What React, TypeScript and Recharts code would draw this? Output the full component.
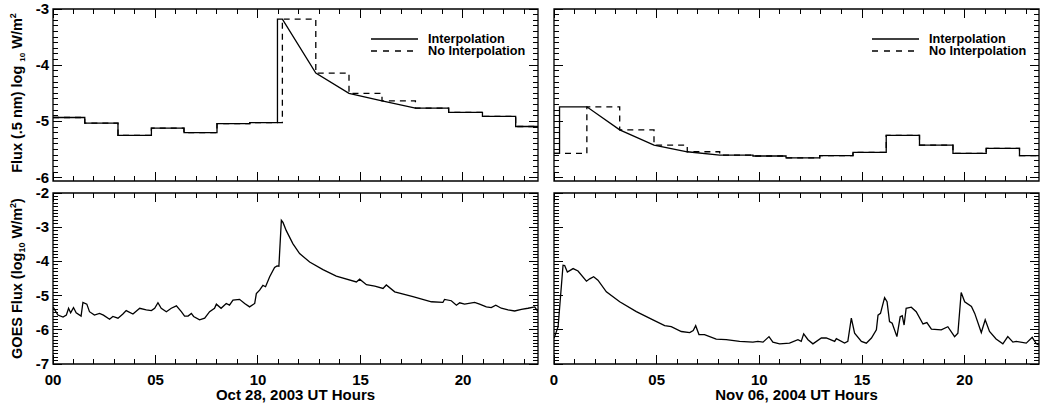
import { LineChart, Line, XAxis, YAxis, ReferenceArea, Legend } from 'recharts'

const FONT = '"Liberation Sans", Arial, Helvetica, sans-serif'

// x: UT hours, ticks every hour, labels on every 5th
const hourTicks = Array.from({ length: 24 }, (_, i) => i)
const octHourLabels = ['00', '05', '10', '15', '20']
const novHourLabels = ['0', '05', '10', '15', '20']

// y: log10 flux, majors labelled, minors every 0.1
const fluxMajor = [-6, -5, -4, -3]
const goesMajor = [-7, -6, -5, -4, -3, -2]

// Oct 28, 2003 — 0.5 nm flux bins
const octBinEdges = [0, 1.55, 3.17, 4.8, 6.39, 8.0, 9.6, 11.19, 12.82, 14.44, 16.05, 17.68, 19.3, 20.95, 22.57, 23.66]
const octBinLevels = [-4.93, -5.03, -5.25, -5.12, -5.2, -5.04, -5.02, -3.18, -4.14, -4.5, -4.635, -4.765, -4.84, -4.91, -5.09]
const octInterp = [
  [0, -4.93], [1.55, -4.93], [1.55, -5.03], [3.17, -5.03], [3.17, -5.25], [4.8, -5.25], [4.8, -5.12],
  [6.39, -5.12], [6.39, -5.2], [8.0, -5.2], [8.0, -5.04], [9.6, -5.04], [9.6, -5.02], [10.95, -5.02],
  [10.95, -3.18], [11.19, -3.18], [12.82, -4.14], [14.44, -4.5], [16.05, -4.635], [17.68, -4.765],
  [19.3, -4.765], [19.3, -4.84], [20.95, -4.84], [20.95, -4.91], [22.57, -4.91], [22.57, -5.09], [23.66, -5.09],
]

// Nov 06, 2004 — 0.5 nm flux bins
const novBinEdges = [0, 1.6, 3.2, 4.87, 6.49, 8.07, 9.69, 11.3, 12.94, 14.56, 16.18, 17.8, 19.43, 21.05, 22.67, 23.62]
const novBinLevels = [-5.57, -4.74, -5.15, -5.42, -5.54, -5.6, -5.615, -5.65, -5.61, -5.55, -5.25, -5.42, -5.57, -5.48, -5.61]
const novInterp = [
  [0, -5.57], [0.27, -5.57], [0.27, -4.74], [1.6, -4.74], [3.2, -5.15], [4.87, -5.42], [6.49, -5.54],
  [8.07, -5.6], [9.69, -5.6], [9.69, -5.615], [11.3, -5.615], [11.3, -5.65], [12.94, -5.65], [12.94, -5.61],
  [14.56, -5.61], [14.56, -5.55], [16.18, -5.55], [16.18, -5.25], [17.8, -5.25], [17.8, -5.42], [19.43, -5.42],
  [19.43, -5.57], [21.05, -5.57], [21.05, -5.48], [22.67, -5.48], [22.67, -5.61], [23.62, -5.61],
]

// GOES X-ray flux
const goesOct = [
  [0, -5.33], [0.24, -5.57], [0.49, -5.63], [0.65, -5.57], [0.76, -5.37], [0.86, -5.5], [1.0, -5.35], [1.13, -5.5],
  [1.37, -5.6], [1.46, -5.2], [1.65, -5.25], [1.78, -5.47], [2.02, -5.57], [2.27, -5.52], [2.46, -5.57], [2.76, -5.69],
  [2.92, -5.61], [3.17, -5.66], [3.41, -5.54], [3.57, -5.44], [3.9, -5.54], [4.23, -5.37], [4.55, -5.42], [4.8, -5.44],
  [4.96, -5.37], [5.12, -5.21], [5.28, -5.37], [5.53, -5.47], [5.77, -5.37], [6.02, -5.3], [6.26, -5.47], [6.42, -5.6],
  [6.59, -5.6], [6.75, -5.52], [6.86, -5.61], [7.15, -5.71], [7.4, -5.66], [7.64, -5.47], [7.88, -5.37], [7.97, -5.25],
  [8.2, -5.37], [8.45, -5.23], [8.61, -5.28], [8.78, -5.13], [9.1, -5.11], [9.35, -5.23], [9.59, -5.33], [9.84, -5.23],
  [9.92, -4.94], [10.08, -4.84], [10.24, -4.7], [10.37, -4.74], [10.57, -4.45], [10.81, -4.18], [10.93, -4.13],
  [11.02, -4.14], [11.14, -2.8], [11.22, -2.86], [11.38, -3.1], [11.7, -3.48], [12.03, -3.77], [12.52, -4.02],
  [13.17, -4.24], [13.82, -4.43], [14.8, -4.6], [14.96, -4.52], [15.29, -4.68], [15.7, -4.72], [16.1, -4.79],
  [16.26, -4.69], [16.67, -4.89], [17.56, -5.03], [18.46, -5.18], [19.02, -5.2], [19.1, -5.11], [19.43, -5.15],
  [19.68, -5.28], [19.84, -5.21], [20.08, -5.25], [20.57, -5.2], [20.81, -5.25], [21.14, -5.33], [21.38, -5.35],
  [21.6, -5.28], [21.87, -5.37], [22.2, -5.42], [22.52, -5.45], [22.85, -5.4], [23.17, -5.37], [23.5, -5.33], [23.66, -5.47],
]
const goesNov = [
  [0, -6.25], [0.03, -6.2], [0.2, -5.91], [0.44, -4.11], [0.52, -4.12], [0.65, -4.31], [0.93, -4.21], [1.17, -4.28],
  [1.58, -4.58], [1.74, -4.51], [1.93, -4.45], [2.14, -4.55], [2.55, -4.89], [3.2, -5.18], [4.01, -5.47], [4.82, -5.71],
  [5.39, -5.88], [5.71, -5.91], [6.2, -6.05], [6.61, -6.08], [6.78, -6.02], [6.9, -5.88], [7.06, -6.14], [7.33, -6.14],
  [7.9, -6.27], [8.39, -6.29], [9.04, -6.34], [9.69, -6.36], [9.93, -6.34], [10.18, -6.36], [10.47, -6.2], [10.66, -6.36],
  [10.99, -6.41], [11.47, -6.39], [11.88, -6.29], [12.04, -6.34], [12.16, -6.12], [12.37, -6.29], [12.61, -6.41],
  [13.02, -6.24], [13.26, -6.24], [13.67, -6.34], [13.75, -6.26], [14.15, -6.39], [14.31, -6.34], [14.48, -5.66],
  [14.64, -6.1], [14.97, -6.34], [15.21, -6.39], [15.46, -6.24], [15.7, -6.0], [15.78, -5.57], [15.9, -5.52],
  [16.1, -5.06], [16.22, -5.18], [16.34, -5.76], [16.47, -5.81], [16.7, -6.2], [16.86, -5.62], [16.96, -5.59],
  [17.05, -5.86], [17.15, -5.37], [17.4, -5.34], [17.64, -5.47], [17.97, -5.83], [18.16, -5.79], [18.38, -5.98],
  [18.86, -6.0], [19.18, -5.91], [19.51, -6.2], [19.67, -6.1], [19.83, -4.91], [20.0, -5.18], [20.33, -5.32],
  [20.49, -5.52], [20.81, -6.08], [21.0, -5.71], [21.21, -6.05], [21.53, -6.27], [21.86, -6.41], [22.1, -6.2],
  [22.35, -6.36], [22.51, -6.34], [23.0, -6.39], [23.29, -6.22], [23.49, -6.41], [23.62, -6.44],
]

const pts = (a: number[][]) => a.map(([t, v]) => ({ t, v }))
const steps = (edges: number[], levels: number[]) =>
  edges.map((t, i) => ({ t, v: levels[Math.min(i, levels.length - 1)] }))
const withMinors = (majors: number[]) => {
  const out: number[] = []
  for (let i = 0; i < majors.length - 1; i++)
    for (let k = 0; k < 10; k++) out.push(Math.round((majors[i] + k / 10) * 10) / 10)
  out.push(majors[majors.length - 1])
  return out
}

type Box = { left: number; right: number; top: number; bottom: number }

const TICK = { stroke: '#000', strokeWidth: 1 }
// snap 1px tick lines onto the pixel grid so they stay dark
const crisp = (c: number) => Math.round(c - 0.5) + 0.5

function hourTick(b: Box, labels: string[] | null) {
  return (p: any) => {
    const x = crisp(p.x)
    const v = Number(p.payload.value)
    const major = Math.abs(v / 5 - Math.round(v / 5)) < 1e-6
    const len = major ? 9 : 5
    return (
      <g>
        <line x1={x} x2={x} y1={b.bottom} y2={b.bottom - len} {...TICK} />
        <line x1={x} x2={x} y1={b.top} y2={b.top + len} {...TICK} />
        {labels && major && (
          <text x={p.x} y={b.bottom + 21} textAnchor="middle" fontFamily={FONT} fontWeight="bold" fontSize={15} fill="#000">
            {labels[Math.round(v / 5)]}
          </text>
        )}
      </g>
    )
  }
}

function fluxTick(b: Box, showLabels: boolean) {
  return (p: any) => {
    const y = crisp(p.y)
    const v = Number(p.payload.value)
    const major = Math.abs(v - Math.round(v)) < 1e-6
    const len = major ? 9 : 5
    return (
      <g>
        <line x1={b.left} x2={b.left + len} y1={y} y2={y} {...TICK} />
        <line x1={b.right} x2={b.right - len} y1={y} y2={y} {...TICK} />
        {showLabels && major && (
          <text x={b.left - 4} y={p.y + 5} textAnchor="end" fontFamily={FONT} fontWeight="bold" fontSize={15} fill="#000">
            {String(Math.round(v))}
          </text>
        )}
      </g>
    )
  }
}

const renderLegend = (props: any) => (
  <div style={{ fontFamily: FONT, fontWeight: 'bold', fontSize: 12.7, color: '#000' }}>
    {(props.payload ?? []).map((e: any) => (
      <div key={e.value} style={{ display: 'flex', alignItems: 'center', height: 12, lineHeight: '12px' }}>
        <svg width={47} height={4} style={{ display: 'block' }}>
          <line x1={0} x2={47} y1={2} y2={2} stroke="#000" strokeWidth={1.3}
            strokeDasharray={e.value === 'No Interpolation' ? '6 6' : undefined} />
        </svg>
        <span style={{ marginLeft: 10, whiteSpace: 'nowrap' }}>{e.value}</span>
      </div>
    ))}
  </div>
)

function Panel({
  left, top, width, height, box, xMax, yDomain, yTicks, yLabels, xLabels,
  yTitle, xTitle, legendLeft, children,
}: any) {
  const yAxisWidth = box.left
  const xAxisHeight = height - box.bottom
  return (
    <div style={{ position: 'absolute', left, top }}>
      <LineChart width={width} height={height}
        margin={{ top: box.top, right: width - box.right, bottom: 0, left: 0 }}>
        <XAxis dataKey="t" type="number" domain={[0, xMax]} allowDataOverflow ticks={hourTicks}
          interval={0} height={xAxisHeight} axisLine={false} tickLine={false} tick={hourTick(box, xLabels)}
          label={xTitle ? () => (
            <text x={(box.left + box.right) / 2} y={box.bottom + 36} textAnchor="middle" fontFamily={FONT}
              fontWeight="bold" fontSize={15} fill="#000">{xTitle}</text>
          ) : undefined} />
        <YAxis type="number" domain={yDomain} allowDataOverflow ticks={yTicks} interval={0}
          width={yAxisWidth} axisLine={false} tickLine={false} tick={fluxTick(box, yLabels)}
          label={yTitle ? () => yTitle : undefined} />
        <ReferenceArea x1={0} x2={xMax} y1={yDomain[0]} y2={yDomain[1]} fill="none" stroke="#000"
          strokeWidth={1.3} ifOverflow="visible" />
        {children}
        {legendLeft != null && (
          <Legend layout="vertical" verticalAlign="middle" align="center" content={renderLegend}
            wrapperStyle={{ left: legendLeft, top: 33, width: 'auto', height: 'auto' }} />
        )}
      </LineChart>
    </div>
  )
}

const titleProps = { textAnchor: 'middle' as const, fontFamily: FONT, fontWeight: 'bold', fontSize: 14.5, fill: '#000' }

const fluxTitle = (
  <text x={22} y={93} transform="rotate(-90 22 93)" {...titleProps}>
    {'Flux (.5 nm) log '}
    <tspan fontSize={8} dy={3}>10</tspan>
    <tspan dy={-3}>{' W/m'}</tspan>
    <tspan fontSize={9} dy={-6}>2</tspan>
  </text>
)

const goesTitle = (
  <text x={22} y={94.5} transform="rotate(-90 22 94.5)" {...titleProps}>
    {'GOES Flux (log'}
    <tspan fontSize={9} dy={3}>10</tspan>
    <tspan dy={-3}>{' W/m'}</tspan>
    <tspan fontSize={9} dy={-6}>2</tspan>
    <tspan dy={6}>)</tspan>
  </text>
)

const lineProps = { dot: false, isAnimationActive: false, stroke: '#000', strokeWidth: 1.3 }

export default function App() {
  const topL: Box = { left: 53, right: 538, top: 9, bottom: 181 }
  const botL: Box = { left: 53, right: 538, top: 9, bottom: 180 }
  const topR: Box = { left: 14, right: 499, top: 9, bottom: 181 }
  const botR: Box = { left: 14, right: 499, top: 9, bottom: 180 }
  const fluxTicks = withMinors(fluxMajor)
  const goesTicks = withMinors(goesMajor)
  return (
    <div style={{ position: 'absolute', left: 0, top: 0, width: 1044, height: 405, background: '#fff' }}>
      <Panel left={0} top={0} width={545} height={190} box={topL} xMax={23.66} yDomain={[-6.06, -3]}
        yTicks={fluxTicks} yLabels xLabels={null} yTitle={fluxTitle} legendLeft={371}>
        <Line data={pts(octInterp)} dataKey="v" name="Interpolation" type="linear" {...lineProps} />
        <Line data={steps(octBinEdges, octBinLevels)} dataKey="v" name="No Interpolation" type="stepAfter"
          strokeDasharray="6 5" {...lineProps} />
      </Panel>
      <Panel left={540} top={0} width={504} height={190} box={topR} xMax={23.62} yDomain={[-6.06, -3]}
        yTicks={fluxTicks} yLabels={false} xLabels={null} legendLeft={332}>
        <Line data={pts(novInterp)} dataKey="v" name="Interpolation" type="linear" {...lineProps} />
        <Line data={steps(novBinEdges, novBinLevels)} dataKey="v" name="No Interpolation" type="stepAfter"
          strokeDasharray="6 5" {...lineProps} />
      </Panel>
      <Panel left={0} top={184} width={545} height={221} box={botL} xMax={23.66} yDomain={[-7, -2]}
        yTicks={goesTicks} yLabels xLabels={octHourLabels} yTitle={goesTitle} xTitle="Oct 28, 2003 UT Hours">
        <Line data={pts(goesOct)} dataKey="v" name="GOES" type="linear" {...lineProps} />
      </Panel>
      <Panel left={540} top={184} width={504} height={221} box={botR} xMax={23.62} yDomain={[-7, -2]}
        yTicks={goesTicks} yLabels={false} xLabels={novHourLabels} xTitle="Nov 06, 2004 UT Hours">
        <Line data={pts(goesNov)} dataKey="v" name="GOES" type="linear" {...lineProps} />
      </Panel>
    </div>
  )
}
